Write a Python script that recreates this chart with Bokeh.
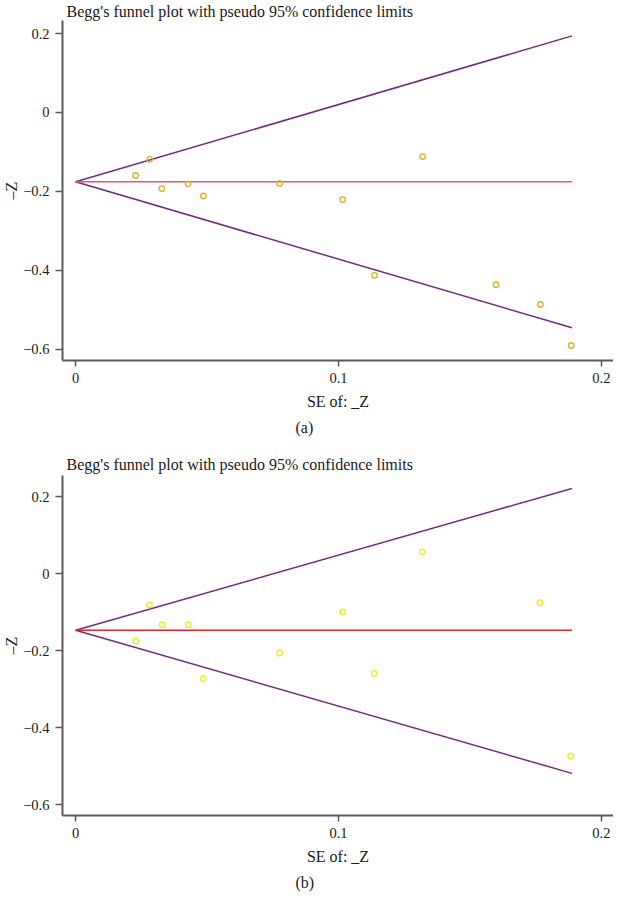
from bokeh.plotting import figure
from bokeh.layouts import column
from bokeh.models import FixedTicker, Title, ColumnDataSource
from bokeh.embed import file_html
from bokeh.resources import INLINE

# ---- data ----
se_a = [0.0228, 0.0282, 0.0328, 0.0428, 0.0486, 0.0776, 0.1016, 0.1137, 0.1320, 0.1599, 0.1768, 0.1885]
z_a = [-0.160, -0.119, -0.193, -0.181, -0.212, -0.180, -0.221, -0.413, -0.112, -0.437, -0.487, -0.591]
se_b = [0.0229, 0.0281, 0.0329, 0.0429, 0.0486, 0.0776, 0.1016, 0.1136, 0.1319, 0.1766, 0.1883]
z_b = [-0.175, -0.081, -0.132, -0.132, -0.273, -0.206, -0.099, -0.259, 0.057, -0.075, -0.474]

line_se = [0.0, 0.1888]
center_a = [-0.176, -0.176]
upper_a = [-0.176, 0.194]
lower_a = [-0.176, -0.546]
center_b = [-0.147, -0.147]
upper_b = [-0.147, 0.222]
lower_b = [-0.147, -0.519]

x_ticks = [0.0, 0.1, 0.2]
x_tick_labels = ["0", "0.1", "0.2"]
y_ticks = [-0.6, -0.4, -0.2, 0.0, 0.2]
y_tick_labels = ["\u22120.6", "\u22120.4", "\u22120.2", "0", "0.2"]

title_text = "Begg's funnel plot with pseudo 95% confidence limits"
x_label = "SE of: _Z"
y_label = "\u2013Z"

FONT = "'Liberation Serif', serif"
AXIS_COL = "#5a5a5a"
PURPLE = "#6e2d80"
FRAME_H = 340
BELOW = 84


def make_panel(se, z, center, upper, lower, marker_col, red_col, y_rng,
               caption, top, title_standoff):
    height = top + FRAME_H + BELOW
    p = figure(width=613, height=height, output_backend="svg", toolbar_location=None,
               x_range=(-0.0050, 0.2046), y_range=y_rng,
               min_border_left=60, min_border_right=0, min_border_top=top,
               min_border_bottom=BELOW)
    p.title.text = title_text
    p.title.text_font = FONT
    p.title.text_font_size = "16px"
    p.title.text_font_style = "normal"
    p.title.text_color = "#1a1a1a"
    p.title.standoff = title_standoff
    p.title.offset = 4
    p.outline_line_color = None
    p.xgrid.visible = False
    p.ygrid.visible = False
    p.background_fill_color = "white"

    for ax in (p.xaxis[0], p.yaxis[0]):
        ax.axis_line_color = AXIS_COL
        ax.axis_line_width = 2
        ax.major_tick_line_color = AXIS_COL
        ax.major_tick_line_width = 1.5
        ax.major_tick_in = 0
        ax.minor_tick_line_color = None
        ax.major_label_text_font = FONT
        ax.major_label_text_font_size = "14.5px"
        ax.major_label_text_color = "#1a1a1a"
        ax.axis_label_text_font = FONT
        ax.axis_label_text_font_size = "16px"
        ax.axis_label_text_font_style = "normal"
        ax.axis_label_text_color = "#1a1a1a"

    p.xaxis[0].ticker = FixedTicker(ticks=x_ticks)
    p.xaxis[0].major_label_overrides = dict(zip(x_ticks, x_tick_labels))
    p.xaxis[0].major_tick_out = 6
    p.xaxis[0].major_label_standoff = 6
    p.xaxis[0].axis_label = x_label
    p.xaxis[0].axis_label_standoff = 7

    p.yaxis[0].ticker = FixedTicker(ticks=y_ticks)
    p.yaxis[0].major_label_overrides = dict(zip(y_ticks, y_tick_labels))
    p.yaxis[0].major_tick_out = 7
    p.yaxis[0].major_label_standoff = 6
    p.yaxis[0].axis_label = y_label
    p.yaxis[0].axis_label_standoff = 0

    p.line(line_se, upper, line_color=PURPLE, line_width=1.5)
    p.line(line_se, lower, line_color=PURPLE, line_width=1.5)
    p.line(line_se, center, line_color=red_col, line_width=1.6)

    src = ColumnDataSource(dict(se=se, z=z))
    p.scatter("se", "z", source=src, marker="circle", size=5.5,
              fill_color=None, line_color=marker_col, line_width=1.3)

    cap = Title(text=caption, align="left", offset=233, text_font=FONT,
                text_font_size="16px", text_font_style="normal",
                text_color="#1a1a1a", standoff=9)
    p.add_layout(cap, "below")
    return p


pa = make_panel(se_a, z_a, center_a, upper_a, lower_a, "#d9b020", "#e6556a",
                (-0.629, 0.233), "(a)", 20, 1)
pb = make_panel(se_b, z_b, center_b, upper_b, lower_b, "#ecec14", "#e3222c",
                (-0.6286, 0.2556), "(b)", 31, 6)

layout = column(pa, pb, spacing=0)
open("out.html", "w").write(file_html(layout, INLINE))
